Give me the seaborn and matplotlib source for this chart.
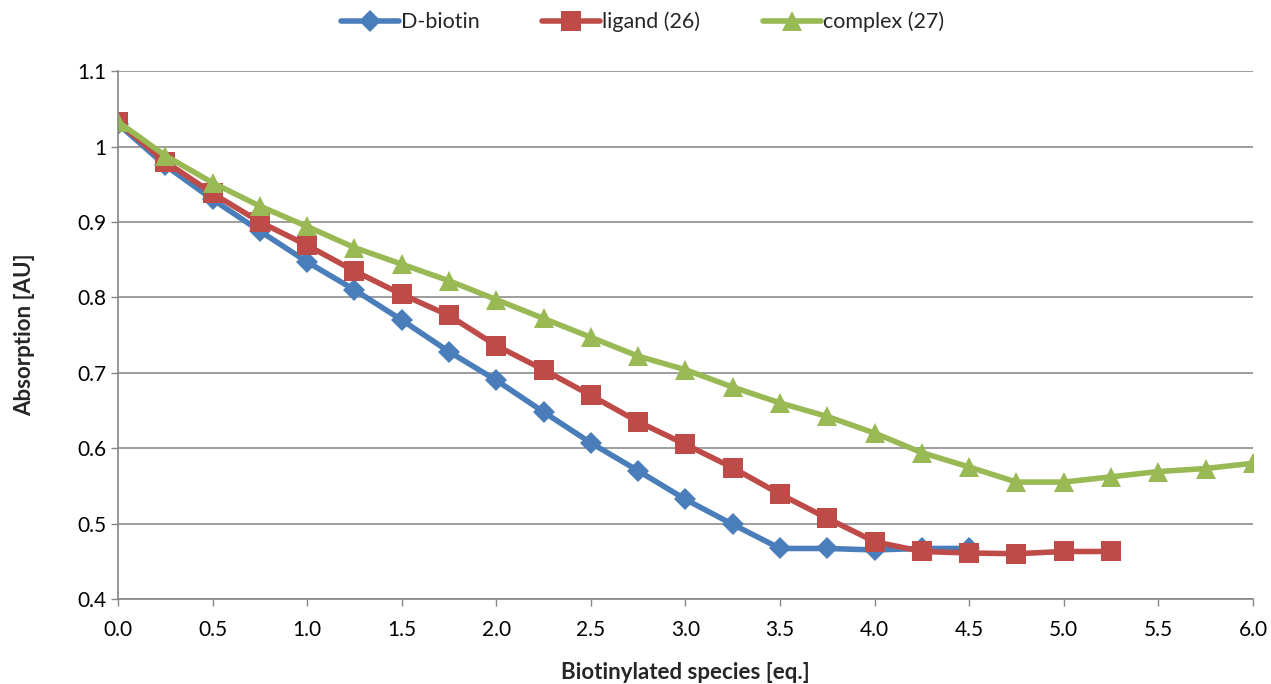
import numpy as np
import pandas as pd
import matplotlib
matplotlib.use("Agg")
import matplotlib.pyplot as plt
import seaborn as sns

# Data
eq_biotin = [0.0, 0.25, 0.5, 0.75, 1.0, 1.25, 1.5, 1.75, 2.0, 2.25, 2.5, 2.75,
             3.0, 3.25, 3.5, 3.75, 4.0, 4.25, 4.5]
abs_biotin = [1.030, 0.975, 0.930, 0.888, 0.847, 0.810, 0.770, 0.728, 0.690,
              0.648, 0.607, 0.570, 0.532, 0.499, 0.467, 0.467, 0.465, 0.467, 0.467]

eq_ligand = [0.0, 0.25, 0.5, 0.75, 1.0, 1.25, 1.5, 1.75, 2.0, 2.25, 2.5, 2.75,
             3.0, 3.25, 3.5, 3.75, 4.0, 4.25, 4.5, 4.75, 5.0, 5.25]
abs_ligand = [1.032, 0.980, 0.938, 0.900, 0.869, 0.835, 0.804, 0.776, 0.736,
              0.704, 0.670, 0.635, 0.605, 0.574, 0.539, 0.507, 0.476, 0.463,
              0.461, 0.460, 0.463, 0.463]

eq_complex = [0.0, 0.25, 0.5, 0.75, 1.0, 1.25, 1.5, 1.75, 2.0, 2.25, 2.5, 2.75,
              3.0, 3.25, 3.5, 3.75, 4.0, 4.25, 4.5, 4.75, 5.0, 5.25, 5.5, 5.75, 6.0]
abs_complex = [1.033, 0.988, 0.952, 0.921, 0.894, 0.866, 0.844, 0.822, 0.797,
               0.772, 0.747, 0.722, 0.704, 0.681, 0.660, 0.642, 0.620, 0.594,
               0.575, 0.555, 0.555, 0.562, 0.569, 0.573, 0.580]

series_names = ["D-biotin", "ligand (26)", "complex (27)"]
colors = ["#4A7EBB", "#BE4B48", "#98B954"]
markers = ["D", "s", "^"]
marker_sizes = [11.5, 14, 15]

sns.set_theme(style="white")
plt.rcParams['font.family'] = ['Lato', 'DejaVu Sans']

fig = plt.figure(figsize=(12.71, 6.84), dpi=100)
ax = fig.add_axes([0.0928, 0.1243, 0.893, 0.7717])

data = [(eq_biotin, abs_biotin), (eq_ligand, abs_ligand), (eq_complex, abs_complex)]
for (x, y), name, c, m, ms in zip(data, series_names, colors, markers, marker_sizes):
    df = pd.DataFrame({"eq": x, "absorption": y})
    sns.lineplot(data=df, x="eq", y="absorption", ax=ax, color=c, linewidth=4,
                 marker=m, markersize=ms, markeredgewidth=0, label=name)

ax.set_xlim(0, 6)
ax.set_ylim(0.4, 1.1)
ax.set_xticks(np.arange(0, 6.01, 0.5))
ax.set_xticklabels([f"{v:.1f}" for v in np.arange(0, 6.01, 0.5)])
ax.set_yticks(np.arange(0.4, 1.101, 0.1))
ax.set_yticklabels(["0.4", "0.5", "0.6", "0.7", "0.8", "0.9", "1", "1.1"])
ax.tick_params(axis="both", labelsize=15, length=5, width=1, color="#868686",
               direction="out", bottom=True, left=True, labelcolor="black")
ax.tick_params(axis="x", pad=10)
ax.grid(axis="y", color="#8c8c8c", linewidth=1.2)
ax.grid(axis="x", visible=False)
for s in ["top", "right"]:
    ax.spines[s].set_visible(False)
for s in ["left", "bottom"]:
    ax.spines[s].set_color("#868686")
    ax.spines[s].set_linewidth(1.2)

ax.set_xlabel("Biotinylated species [eq.]", fontsize=16, fontweight="bold", labelpad=16)
ax.set_ylabel("Absorption [AU]", fontsize=16, fontweight="bold", labelpad=30)

ax.legend(loc="center", bbox_to_anchor=(0.462, 1.093), ncol=3, frameon=False,
          fontsize=15.5, handlelength=2.7, columnspacing=2.9, handletextpad=0.1)

fig.savefig("out.png", dpi=100)
